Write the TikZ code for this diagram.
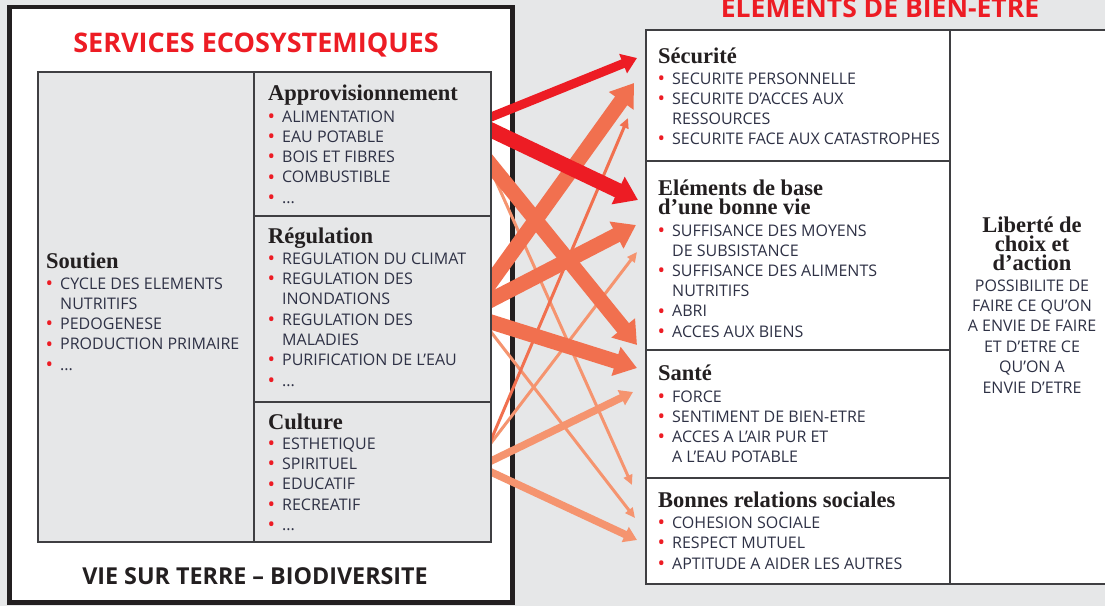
\documentclass[tikz,border=0pt]{standalone}
\usepackage{fontspec}
\setmainfont{Open Sans}
\newfontfamily\hdfont{Liberation Serif}
\usetikzlibrary{arrows.meta,calc}
\definecolor{bg}{HTML}{E6E7E8}
\definecolor{bred}{HTML}{ED1C24}
\definecolor{corange}{HTML}{F1704F}
\definecolor{clight}{HTML}{F5946F}
\definecolor{txt}{HTML}{2E3145}
\definecolor{hdc}{HTML}{231F20}
\definecolor{cframe}{HTML}{3F3F42}
\newcommand\bul{\makebox[14pt][l]{\hspace{-0.5pt}\raisebox{-1.2pt}{\textcolor{bred}{\fontsize{20}{20}\selectfont •}}}}
\newcommand\con{\hspace{14pt}}
\newcommand\tdots{...}
% #1 prefix, #2 x, #3 first baseline, #4 step, #5 list
\newcommand\itemlines[5]{%
  \foreach \t [count=\i] in {#5} {\node[itemtext] (#1\i) at (#2, {#3+(\i-1)*#4}) {\t};}}
\newcommand\centerlines[5]{%
  \foreach \t [count=\i] in {#5} {\node[itemtext, anchor=base] (#1\i) at (#2, {#3+(\i-1)*#4}) {\t};}}
\begin{document}
\begin{tikzpicture}[x=1pt,y=-1pt,
  itemtext/.style={anchor=base west, inner sep=0pt, font=\fontsize{16}{16}\selectfont, text=txt},
  hdtext/.style={anchor=base west, inner sep=0pt, font=\hdfont\bfseries\fontsize{22.5}{22.5}\selectfont, text=hdc},
  ttl/.style={anchor=base, inner sep=0pt, font=\bfseries\fontsize{27}{27}\selectfont},
  boxline/.style={draw=cframe, line width=1.5pt},
  thickarr/.style={line width=15pt, -{Triangle[length=22pt,width=29pt]}},
  medarr/.style={line width=9pt, -{Triangle[length=15pt,width=20pt]}},
  lmedarr/.style={line width=7.5pt, -{Triangle[length=13pt,width=16pt]}},
  thinarr/.style={line width=3pt, -{Triangle[length=10pt,width=9pt]}}
]
\useasboundingbox (0,0) rectangle (1105,606);
\fill[bg] (0,0) rectangle (1105,606);
% outer left frame
\draw[line width=4.5pt, draw=hdc, fill=white] (9.5,7) rectangle (512.5,602.5);

% arrow coordinates
\coordinate (oA1) at (491,117); \coordinate (tA1) at (637,58);
\coordinate (oA2) at (491,130); \coordinate (tA2) at (638,200);
\coordinate (oA3) at (491,165); \coordinate (tA3) at (637,345);
\coordinate (oA4) at (491,170); \coordinate (tA4) at (632,485);
\coordinate (oR1) at (491,282); \coordinate (tR1) at (634,83);
\coordinate (oR2) at (491,300); \coordinate (tR2) at (636,225);
\coordinate (oR3) at (491,322); \coordinate (tR3) at (637,368);
\coordinate (oR4) at (491,332); \coordinate (tR4) at (635,518);
\coordinate (oC1) at (491,440); \coordinate (tC1) at (628,118);
\coordinate (oC2) at (491,443); \coordinate (tC2) at (637,252);
\coordinate (oC3) at (491,461); \coordinate (tC3) at (633,392);
\coordinate (oC4) at (491,472); \coordinate (tC4) at (637,540);

% light arrows
\draw[thinarr, clight] ($(oA4)!-25pt!(tA4)$) -- (tA4);
\draw[thinarr, clight] ($(oR4)!-25pt!(tR4)$) -- (tR4);
\draw[thinarr, clight] ($(oC2)!-25pt!(tC2)$) -- (tC2);
\draw[lmedarr, clight] ($(oC3)!-25pt!(tC3)$) -- (tC3);
\draw[lmedarr, clight] ($(oC4)!-25pt!(tC4)$) -- (tC4);
% orange arrows
\draw[thinarr, corange] ($(oC1)!-25pt!(tC1)$) -- (tC1);
\draw[thickarr, corange] ($(oA3)!-25pt!(tA3)$) -- (tA3);
\draw[thickarr, corange] ($(oR1)!-25pt!(tR1)$) -- (tR1);
\draw[thickarr, corange] ($(oR2)!-25pt!(tR2)$) -- (tR2);
\draw[thickarr, corange] ($(oR3)!-25pt!(tR3)$) -- (tR3);
% red arrows
\draw[medarr, bred] ($(oA1)!-25pt!(tA1)$) -- (tA1);
\draw[thickarr, bred] ($(oA2)!-25pt!(tA2)$) -- (tA2);

% inner left box
\draw[boxline, fill=bg] (38,72) rectangle (491,542);
\draw[boxline] (254,72) -- (254,542);
\draw[boxline] (254,216) -- (491,216);
\draw[boxline] (254,402) -- (491,402);

% right box
\draw[boxline, fill=white] (646,30) rectangle (1112,584);
\draw[boxline] (950,30) -- (950,584);
\draw[boxline] (646,161) -- (950,161);
\draw[boxline] (646,350) -- (950,350);
\draw[boxline] (646,478) -- (950,478);

% titles
\node[ttl, text=bred] (titleL) at (256,52) {SERVICES ECOSYSTEMIQUES};
\node[ttl, text=bred, font=\bfseries\fontsize{26.5}{26.5}\selectfont] (titleR) at (880,17) {ELEMENTS DE BIEN-ETRE};
\node[ttl, text=hdc, font=\bfseries\fontsize{23.3}{23.3}\selectfont] (vie) at (255,584) {VIE SUR TERRE – BIODIVERSITE};

% left sections
\node[hdtext] (hAppro) at (268,100) {Approvisionnement};
\itemlines{ap}{268}{122}{20.3}{\bul ALIMENTATION, \bul EAU POTABLE, \bul BOIS ET FIBRES, \bul COMBUSTIBLE, \bul \tdots}
\node[hdtext] (hReg) at (268,243) {Régulation};
\itemlines{rg}{268}{264}{20.35}{\bul REGULATION DU CLIMAT, \bul REGULATION DES, \con INONDATIONS, \bul REGULATION DES, \con MALADIES, \bul PURIFICATION DE L’EAU, \bul \tdots}
\node[hdtext] (hSout) at (46,268) {Soutien};
\itemlines{so}{46}{289}{20.3}{\bul CYCLE DES ELEMENTS, \con NUTRITIFS, \bul PEDOGENESE, \bul PRODUCTION PRIMAIRE, \bul \tdots}
\node[hdtext] (hCult) at (268,429) {Culture};
\itemlines{cu}{268}{449}{20.4}{\bul ESTHETIQUE, \bul SPIRITUEL, \bul EDUCATIF, \bul RECREATIF, \bul \tdots}

% right sections
\node[hdtext] (hSec) at (658,63) {Sécurité};
\itemlines{se}{658}{84}{20}{\bul SECURITE PERSONNELLE, \bul SECURITE D’ACCES AUX, \con RESSOURCES, \bul SECURITE FACE AUX CATASTROPHES}
\node[hdtext] (hElem1) at (658,195) {Eléments de base};
\node[hdtext] (hElem2) at (658,214) {d’une bonne vie};
\itemlines{el}{658}{236}{20.2}{\bul SUFFISANCE DES MOYENS, \con DE SUBSISTANCE, \bul SUFFISANCE DES ALIMENTS, \con NUTRITIFS, \bul ABRI, \bul ACCES AUX BIENS}
\node[hdtext] (hSan) at (658,380) {Santé};
\itemlines{sa}{658}{402}{20.3}{\bul FORCE, \bul SENTIMENT DE BIEN-ETRE, \bul ACCES A L’AIR PUR ET, \con A L’EAU POTABLE}
\node[hdtext] (hBon) at (658,507) {Bonnes relations sociales};
\itemlines{bo}{658}{528}{20.5}{\bul COHESION SOCIALE, \bul RESPECT MUTUEL, \bul APTITUDE A AIDER LES AUTRES}

% liberte
\node[hdtext, anchor=base] (hLib1) at (1032,232) {Liberté de};
\node[hdtext, anchor=base] (hLib2) at (1032,251) {choix et};
\node[hdtext, anchor=base] (hLib3) at (1032,270) {d’action};
\centerlines{li}{1032}{291}{20.4}{POSSIBILITE DE, FAIRE CE QU’ON, A ENVIE DE FAIRE, ET D’ETRE CE, QU’ON A, ENVIE D’ETRE}
\end{tikzpicture}
\end{document}
